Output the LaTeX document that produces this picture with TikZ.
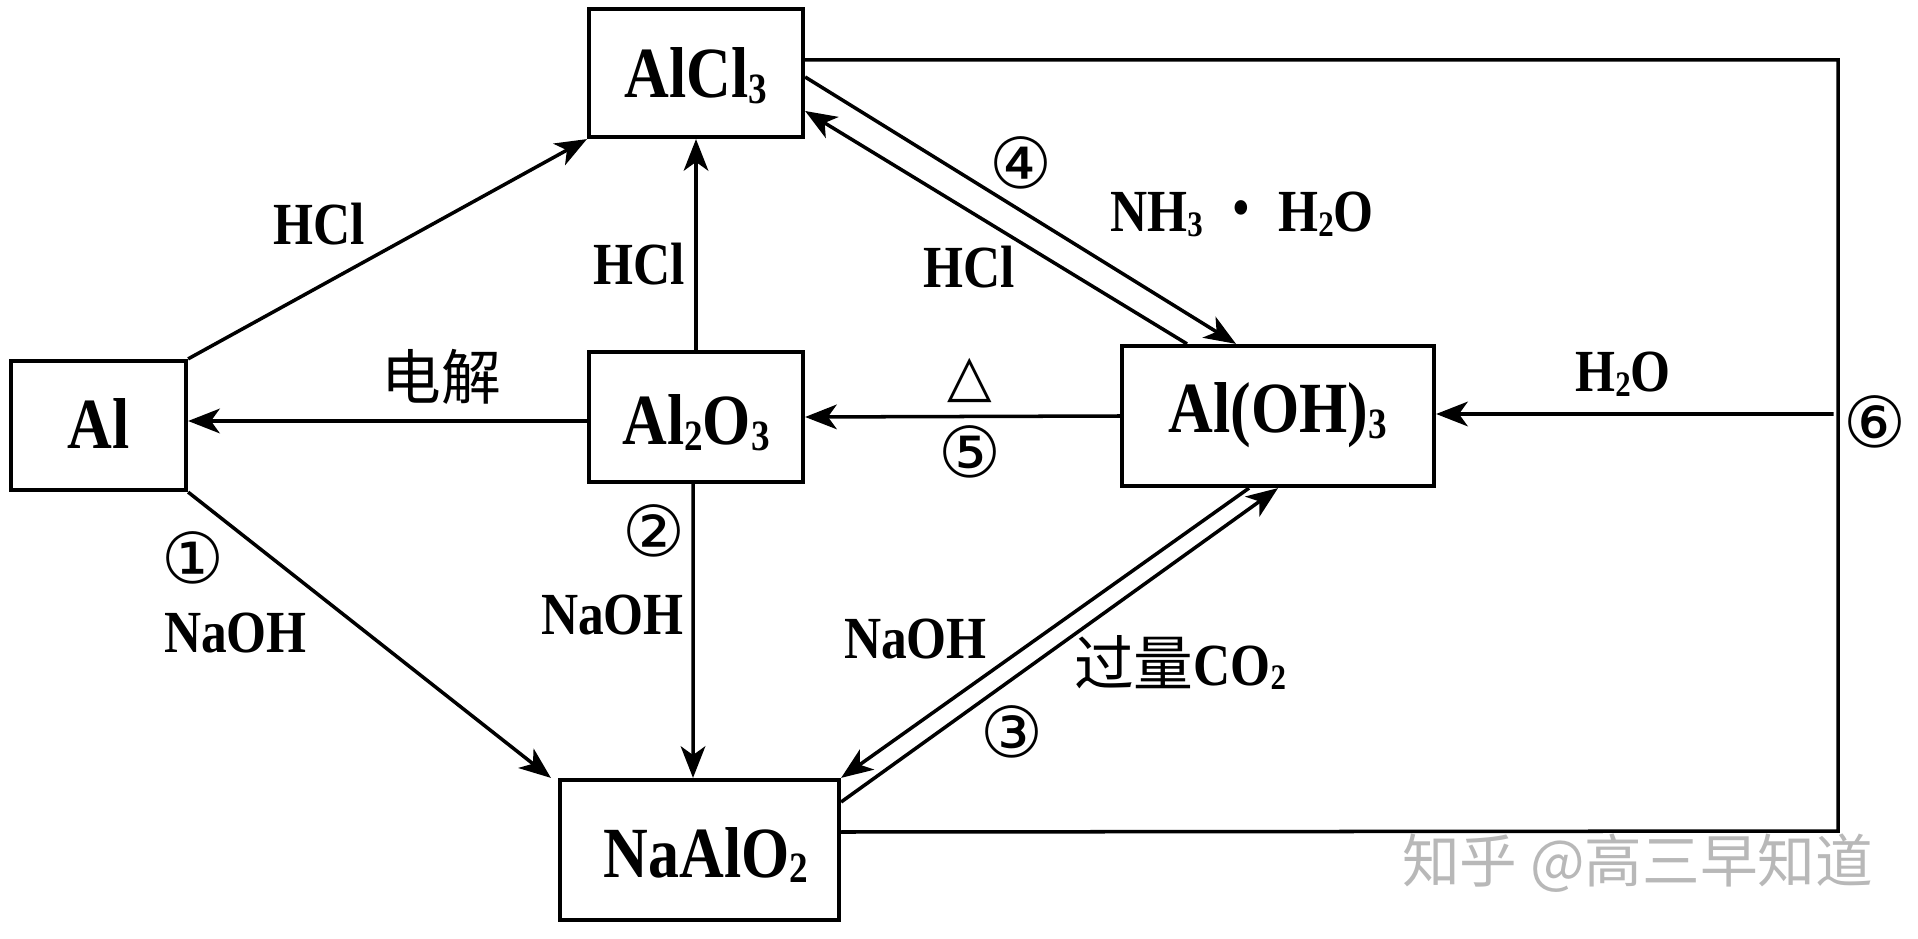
\documentclass[tikz,border=0pt]{standalone}
\usepackage{graphicx}
\usepackage{fontspec}
\setmainfont[FakeStretch=0.86]{Liberation Serif Bold}
\newfontfamily\cjk{Noto Sans CJK SC}
\newfontfamily\dejavu{DejaVu Sans}
\usetikzlibrary{arrows.meta}
\newcommand{\dn}[1]{\raisebox{-.08em}{\scalebox{.6}{#1}}}

\begin{document}
\begin{tikzpicture}[
>={Stealth[length=9pt,width=7pt,inset=2.5pt]},
chem/.style={
	draw,
	line width=1.2pt,
	inner sep=0pt,
	font=\fontsize{20.5pt}{24pt}\selectfont
},
reagent/.style={
	anchor=base,
	inner sep=0pt,
	font=\fontsize{17pt}{20pt}\selectfont
},
stepnum/.style={
	inner sep=0pt,
	font=\dejavu\fontsize{20pt}{22pt}\selectfont
},
link/.style={
	line width=1pt
},
reaction/.style={
	->,
	line width=1pt
}
]
\useasboundingbox (0,0) rectangle (19.18,9.38);

\node[chem,minimum width=2.14cm,minimum height=1.28cm,text height=.75cm,text depth=.25cm] (alcl) at (6.96,8.65) {AlCl\dn{3}};
\node[chem,minimum width=1.75cm,minimum height=1.29cm,text height=.725cm,text depth=.275cm] (al) at (0.985,5.125) {Al};
\node[chem,minimum width=2.14cm,minimum height=1.30cm,text height=.78cm,text depth=.22cm] (alox) at (6.96,5.21) {Al\dn{2}O\dn{3}};
\node[chem,minimum width=3.12cm,minimum height=1.40cm,text height=.67cm,text depth=.33cm] (aloh) at (12.78,5.22) {Al(OH)\dn{3}\hspace{.16cm}};
\node[chem,minimum width=2.79cm,minimum height=1.40cm,text height=.77cm,text depth=.23cm] (naal) at (6.995,0.88) {\hspace{.13cm}NaAlO\dn{2}};

\foreach \x/\y/\l/\t in {3.195/6.93/hcla/HCl,6.395/6.53/hclb/HCl,9.69/6.50/hclc/HCl,
	2.355/2.86/naoha/NaOH,6.125/3.04/naohb/NaOH,9.155/2.80/naohc/NaOH,
	16.23/5.46/wat/H\dn{2}O,12.42/7.06/amm/NH\dn{3}\hspace{.13cm} \raisebox{-.09em}{\scalebox{1.5}{·}}\hspace{.11cm} H\dn{2}O,
	4.415/5.38/elec/{\cjk 电解},11.80/2.53/coo/{\cjk 过量}CO\dn{2}}
\node[reagent] (\l) at (\x,\y) {\t};

\foreach \x/\y/\l/\t in {1.93/3.80/a/①,6.54/4.07/b/②,10.12/2.06/c/③,10.21/7.75/d/④,9.70/4.86/e/⑤,18.745/5.16/f/⑥}
\node[stepnum] (n\l) at (\x,\y) {\t};

\node[inner sep=0pt,font=\dejavu\fontsize{16.5pt}{20pt}\selectfont] (heat) at (9.70,5.58) {△};
\node[inner sep=0pt,text=black!28,font=\cjk\fontsize{16.4pt}{18pt}\selectfont] (mark) at (16.375,0.75) {知乎 @高三早知道};

\coordinate (tr) at (18.38,8.78);
\coordinate (br) at (18.38,1.07);
\coordinate (wr) at (18.335,5.24);

\draw[reaction] (al.north east) -- (alcl.south west);
\draw[reaction] (alox.north) -- (alcl.south);
\draw[reaction] ([yshift=-.04cm]alox.west) -- ([yshift=.045cm]al.east);
\draw[reaction] (al.south east) -- ([xshift=-.07cm]naal.north west);
\draw[reaction] ([xshift=-.03cm]alox.south) -- ([xshift=-.065cm]naal.north);
\draw[reaction] (aloh.west) -- (alox.east);
\draw[reaction] ([yshift=-.04cm]alcl.east) -- ([xshift=-.42cm]aloh.north);
\draw[reaction] ([xshift=-.91cm]aloh.north) -- ([yshift=-.38cm]alcl.east);
\draw[reaction] ([yshift=.48cm]naal.east) -- (aloh.south);
\draw[reaction] ([xshift=-.29cm]aloh.south) -- (naal.north east);
\draw[reaction] (wr) -- ([yshift=.02cm]aloh.east);
\draw[link] ([yshift=.13cm]alcl.east) -- (tr) -- (br) -- ([yshift=.18cm]naal.east);

\end{tikzpicture}
\end{document}
